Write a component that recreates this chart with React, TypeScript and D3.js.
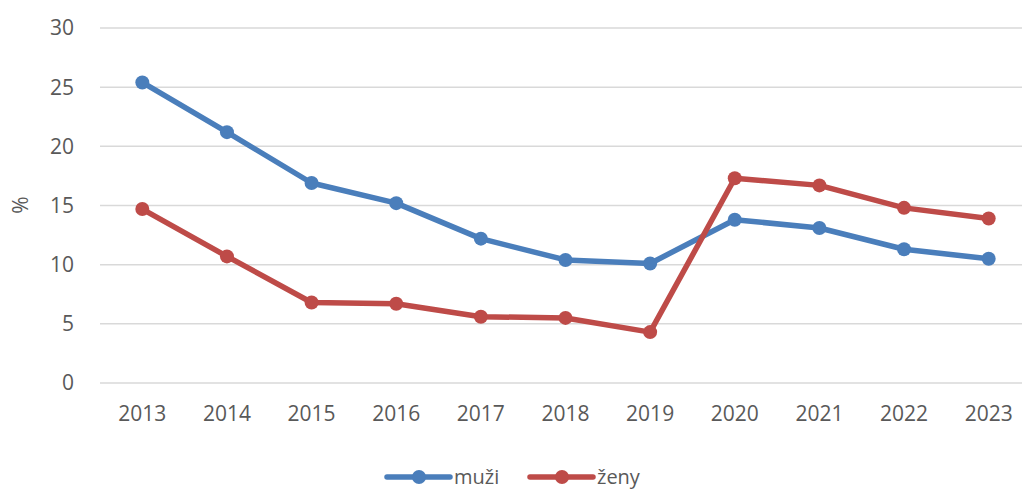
import React, { useEffect, useRef } from "react";
import * as d3 from "d3";

const years = ["2013", "2014", "2015", "2016", "2017", "2018", "2019", "2020", "2021", "2022", "2023"];
const muzi = [25.4, 21.2, 16.9, 15.2, 12.2, 10.4, 10.1, 13.8, 13.1, 11.3, 10.5];
const zeny = [14.7, 10.7, 6.8, 6.7, 5.6, 5.5, 4.3, 17.3, 16.7, 14.8, 13.9];
const yTicks = [0, 5, 10, 15, 20, 25, 30];

const series = [
  { name: "muži", values: muzi, color: "#4a7ebb" },
  { name: "ženy", values: zeny, color: "#be4b48" },
];

const width = 1022;
const height = 491;
const font = "'Open Sans', sans-serif";

const App = () => {
  const ref = useRef<SVGSVGElement>(null);

  useEffect(() => {
    const svg = d3.select(ref.current);
    svg.selectAll("*").remove();

    const x = d3.scaleBand().domain(years).range([100, 1031]).padding(0);
    const y = d3.scaleLinear().domain([0, 30]).range([383, 28]);
    const cx = (d: string) => (x(d) as number) + x.bandwidth() / 2;

    // grid
    svg
      .append("g")
      .selectAll("line")
      .data(yTicks)
      .join("line")
      .attr("x1", 100)
      .attr("x2", width)
      .attr("y1", d => y(d))
      .attr("y2", d => y(d))
      .attr("stroke", "#d9d9d9")
      .attr("stroke-width", 1.5);

    // y labels
    svg
      .append("g")
      .selectAll("text")
      .data(yTicks)
      .join("text")
      .attr("x", 74)
      .attr("y", d => y(d))
      .attr("dy", "0.35em")
      .attr("text-anchor", "end")
      .attr("font-family", font)
      .attr("font-size", 21)
      .attr("fill", "#595959")
      .text(d => d);

    // x labels
    svg
      .append("g")
      .selectAll("text")
      .data(years)
      .join("text")
      .attr("x", d => cx(d))
      .attr("y", 421)
      .attr("text-anchor", "middle")
      .attr("font-family", font)
      .attr("font-size", 21)
      .attr("fill", "#595959")
      .text(d => d);

    // axis title
    svg
      .append("text")
      .attr("transform", "translate(28,205) rotate(-90)")
      .attr("text-anchor", "middle")
      .attr("font-family", font)
      .attr("font-size", 21)
      .attr("fill", "#595959")
      .text("%");

    const line = d3
      .line<number>()
      .x((d, i) => cx(years[i]))
      .y(d => y(d));

    series.forEach(s => {
      svg
        .append("path")
        .datum(s.values)
        .attr("d", line)
        .attr("fill", "none")
        .attr("stroke", s.color)
        .attr("stroke-width", 5.5)
        .attr("stroke-linejoin", "round");
      svg
        .append("g")
        .selectAll("circle")
        .data(s.values)
        .join("circle")
        .attr("cx", (d, i) => cx(years[i]))
        .attr("cy", d => y(d))
        .attr("r", 7)
        .attr("fill", s.color);
    });

    // legend
    const legend = svg.append("g").attr("transform", "translate(387,477)");
    series.forEach((s, i) => {
      const g = legend.append("g").attr("transform", `translate(${i * 143},0)`);
      g.append("line")
        .attr("x1", 0)
        .attr("x2", 63)
        .attr("stroke", s.color)
        .attr("stroke-width", 5.5)
        .attr("stroke-linecap", "round");
      g.append("circle").attr("cx", 32).attr("r", 7).attr("fill", s.color);
      g.append("text")
        .attr("x", 67)
        .attr("dy", "0.35em")
        .attr("font-family", font)
        .attr("font-size", 20)
        .attr("fill", "#595959")
        .text(s.name);
    });
  }, []);

  return (
    <svg
      ref={ref}
      width={width}
      height={height}
      style={{ position: "absolute", left: 0, top: 0, background: "#fff" }}
    />
  );
};

export default App;
